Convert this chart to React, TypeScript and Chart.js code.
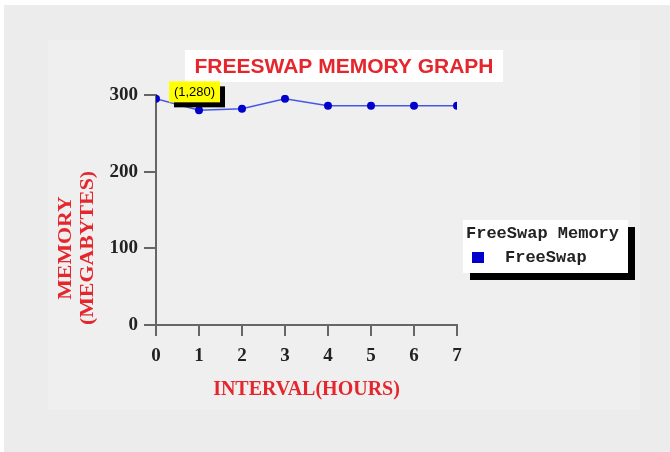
import React, { useEffect, useRef } from "react";
import { Chart, registerables } from "chart.js";

Chart.register(...registerables);

const hours = [0, 1, 2, 3, 4, 5, 6, 7];
const freeSwap = [295, 280, 282, 295, 286, 286, 286, 286];
const yTickValues = [0, 100, 200, 300];
const chartTitle = "FREESWAP MEMORY GRAPH";
const yTitleLines = ["MEMORY", "(MEGABYTES)"];
const xTitle = "INTERVAL(HOURS)";
const legendTitle = "FreeSwap Memory";
const seriesName = "FreeSwap";
const tipIndex = 1;

const RED = "#e5262d";
const SERIF = "'Liberation Serif', 'Times New Roman', serif";

const decorPlugin = {
  id: "decor",
  beforeDraw(chart: any) {
    const ctx = chart.ctx;
    const W = chart.width;
    const H = chart.height;
    ctx.save();
    ctx.fillStyle = "#ffffff";
    ctx.fillRect(0, 0, W, H);
    ctx.fillStyle = "#ececec";
    ctx.fillRect(4, 5, W - 4, H - 5);
    ctx.fillStyle = "#efefef";
    ctx.fillRect(48, 40, 592, 370);

    // title box
    ctx.fillStyle = "#ffffff";
    ctx.fillRect(185, 50, 318, 32);
    ctx.fillStyle = RED;
    ctx.font = "bold 21px 'Liberation Sans', Arial, sans-serif";
    ctx.textAlign = "center";
    ctx.textBaseline = "middle";
    ctx.fillText(chartTitle, 344, 67);

    // y title
    ctx.translate(66, 248);
    ctx.rotate(-Math.PI / 2);
    ctx.scale(1.15, 1);
    ctx.font = "bold 19px " + SERIF;
    ctx.fillStyle = RED;
    ctx.textAlign = "center";
    ctx.textBaseline = "middle";
    yTitleLines.forEach((l, i) => ctx.fillText(l, 0, i * 22));
    ctx.restore();
  },
  afterDraw(chart: any) {
    const ctx = chart.ctx;
    ctx.save();
    // legend
    const lx = 463, ly = 220, lw = 165, lh = 53;
    ctx.fillStyle = "#000";
    ctx.fillRect(lx + 7, ly + 7, lw, lh);
    ctx.fillStyle = "#fff";
    ctx.fillRect(lx, ly, lw, lh);
    ctx.fillStyle = "#222";
    ctx.font = "bold 17px 'Liberation Mono', 'DejaVu Sans Mono', monospace";
    ctx.textAlign = "left";
    ctx.textBaseline = "middle";
    ctx.fillText(legendTitle, lx + 3, ly + 14);
    ctx.fillStyle = chart.data.datasets[0].pointBackgroundColor;
    ctx.fillRect(lx + 9, ly + 32, 12, 11);
    ctx.fillStyle = "#222";
    ctx.fillText(seriesName, lx + 42, ly + 38);

    // tooltip-like label
    const pt = chart.getDatasetMeta(0).data[tipIndex];
    if (pt) {
      const bx = pt.x - 30, by = pt.y - 29, bw = 51, bh = 21;
      ctx.fillStyle = "#000";
      ctx.fillRect(bx + 5, by + 5, bw, bh);
      ctx.fillStyle = "#ffff00";
      ctx.fillRect(bx, by, bw, bh);
      ctx.fillStyle = "#000";
      ctx.font = "13px 'Liberation Sans', Arial, sans-serif";
      ctx.textAlign = "center";
      ctx.textBaseline = "middle";
      ctx.fillText(`(${hours[tipIndex]},${freeSwap[tipIndex]})`, bx + bw / 2, by + bh / 2 + 1);
    }
    ctx.restore();
  },
};

export default function App() {
  const ref = useRef<HTMLCanvasElement | null>(null);
  useEffect(() => {
    if (!ref.current) return;
    const tickFont = { family: SERIF, size: 19, weight: "bold" as const };
    const chart = new Chart(ref.current, {
      type: "line",
      data: {
        datasets: [
          {
            label: seriesName,
            data: hours.map((h, i) => ({ x: h, y: freeSwap[i] })),
            borderColor: "rgba(40,60,230,0.85)",
            borderWidth: 1.5,
            pointBackgroundColor: "#0000cc",
            pointBorderColor: "#0000cc",
            pointRadius: 4,
            pointBorderWidth: 0,
            tension: 0,
            clip: 0,
          } as any,
        ],
      },
      options: {
        responsive: false,
        animation: false,
        events: [],
        layout: { padding: { left: 40, right: 213, top: 95, bottom: 37 } },
        plugins: {
          legend: { display: false },
          tooltip: { enabled: false },
          title: { display: false },
        },
        scales: {
          x: {
            type: "linear",
            min: 0,
            max: 7,
            ticks: { stepSize: 1, font: tickFont, color: "#222", padding: 9 },
            grid: { drawOnChartArea: false, drawTicks: true, tickLength: 11, color: "#666", lineWidth: 2 },
            border: { display: true, color: "#666", width: 2 },
            title: {
              display: true,
              text: xTitle,
              color: RED,
              font: { family: SERIF, size: 20, weight: "bold" },
              padding: { top: 0, bottom: 13 },
            },
            afterFit: (s: any) => {
              s.height = 90;
            },
          },
          y: {
            type: "linear",
            min: 0,
            max: 300,
            afterBuildTicks: (s: any) => {
              s.ticks = yTickValues.map((v) => ({ value: v }));
            },
            ticks: { font: tickFont, color: "#222", padding: 6 },
            grid: { drawOnChartArea: false, drawTicks: true, tickLength: 12, color: "#666", lineWidth: 2 },
            border: { display: true, color: "#666", width: 2 },
            afterFit: (s: any) => {
              s.width = 116;
            },
          },
        },
      },
      plugins: [decorPlugin],
    });
    return () => chart.destroy();
  }, []);
  return (
    <div style={{ position: "absolute", left: 0, top: 0, width: 670, height: 452 }}>
      <canvas ref={ref} width={670} height={452} style={{ display: "block" }} />
    </div>
  );
}
